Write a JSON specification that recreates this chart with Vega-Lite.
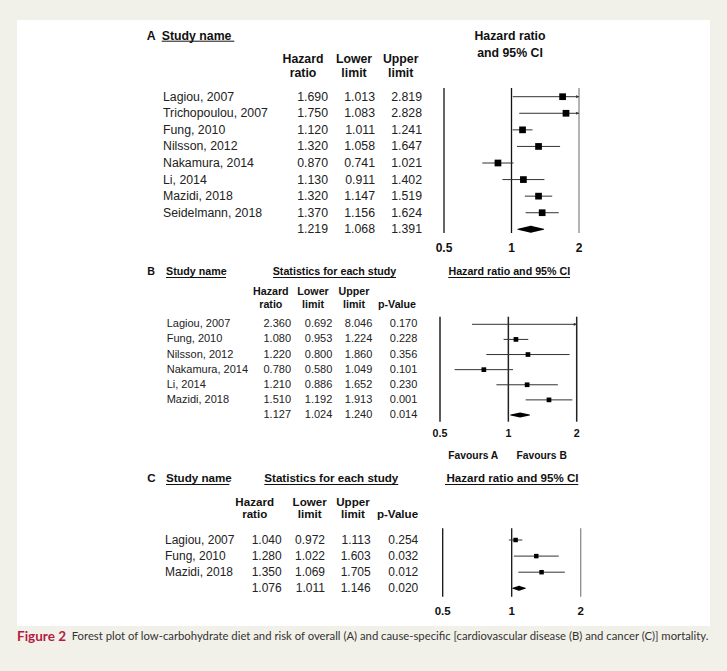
{
  "$schema": "https://vega.github.io/schema/vega-lite/v6.json",
  "background": "#f2f1e9",
  "padding": {"left": 17, "top": 20, "right": 17, "bottom": 23},
  "spacing": 0,
  "config": {"view": {"stroke": null}, "font": "Liberation Sans", "concat": {"spacing": 0}},
  "datasets": {
    "A": [
      {"study": "Lagiou, 2007", "hr": 1.690, "lo": 1.013, "hi": 2.819, "row": 0, "type": "study"},
      {"study": "Trichopoulou, 2007", "hr": 1.750, "lo": 1.083, "hi": 2.828, "row": 1, "type": "study"},
      {"study": "Fung, 2010", "hr": 1.120, "lo": 1.011, "hi": 1.241, "row": 2, "type": "study"},
      {"study": "Nilsson, 2012", "hr": 1.320, "lo": 1.058, "hi": 1.647, "row": 3, "type": "study"},
      {"study": "Nakamura, 2014", "hr": 0.870, "lo": 0.741, "hi": 1.021, "row": 4, "type": "study"},
      {"study": "Li, 2014", "hr": 1.130, "lo": 0.911, "hi": 1.402, "row": 5, "type": "study"},
      {"study": "Mazidi, 2018", "hr": 1.320, "lo": 1.147, "hi": 1.519, "row": 6, "type": "study"},
      {"study": "Seidelmann, 2018", "hr": 1.370, "lo": 1.156, "hi": 1.624, "row": 7, "type": "study"},
      {"study": "", "hr": 1.219, "lo": 1.068, "hi": 1.391, "row": 8, "type": "summary"}
    ],
    "B": [
      {"study": "Lagiou, 2007", "hr": 2.360, "lo": 0.692, "hi": 8.046, "p": 0.170, "row": 0, "type": "study"},
      {"study": "Fung, 2010", "hr": 1.080, "lo": 0.953, "hi": 1.224, "p": 0.228, "row": 1, "type": "study"},
      {"study": "Nilsson, 2012", "hr": 1.220, "lo": 0.800, "hi": 1.860, "p": 0.356, "row": 2, "type": "study"},
      {"study": "Nakamura, 2014", "hr": 0.780, "lo": 0.580, "hi": 1.049, "p": 0.101, "row": 3, "type": "study"},
      {"study": "Li, 2014", "hr": 1.210, "lo": 0.886, "hi": 1.652, "p": 0.230, "row": 4, "type": "study"},
      {"study": "Mazidi, 2018", "hr": 1.510, "lo": 1.192, "hi": 1.913, "p": 0.001, "row": 5, "type": "study"},
      {"study": "", "hr": 1.127, "lo": 1.024, "hi": 1.240, "p": 0.014, "row": 6, "type": "summary"}
    ],
    "C": [
      {"study": "Lagiou, 2007", "hr": 1.040, "lo": 0.972, "hi": 1.113, "p": 0.254, "row": 0, "type": "study"},
      {"study": "Fung, 2010", "hr": 1.280, "lo": 1.022, "hi": 1.603, "p": 0.032, "row": 1, "type": "study"},
      {"study": "Mazidi, 2018", "hr": 1.350, "lo": 1.069, "hi": 1.705, "p": 0.012, "row": 2, "type": "study"},
      {"study": "", "hr": 1.076, "lo": 1.011, "hi": 1.146, "p": 0.020, "row": 3, "type": "summary"}
    ]
  },
  "vconcat": [
    {
      "width": 693, "height": 238,
      "view": {"fill": "white", "stroke": null},
      "encoding": {"y": {"field": "row", "type": "quantitative", "axis": null, "scale": {"domain": [-4, -3, -2, -1, 0, 8, 9], "range": [15.7, 33.3, 39.3, 53.3, 76.7, 209.3, 227.7], "nice": false, "zero": false}}},
      "layer": [
        {"data": {"values": [{"text": "A", "slot": 0, "row": -4}, {"text": "Study name", "slot": 1, "row": -4}]},
         "mark": {"type": "text", "align": "left", "baseline": "middle", "fontWeight": "bold", "fontSize": 12.3, "color": "#111"},
         "encoding": {"x": {"field": "slot", "type": "quantitative", "axis": null, "scale": {"domain": [0, 1, 2, 7], "range": [129.7, 144.7, 217.3, 493], "nice": false, "zero": false}}, "text": {"field": "text"}}},
        {"data": {"values": [{"from": 1, "to": 2, "row": -4}]},
         "mark": {"type": "rule", "yOffset": 5.5, "strokeWidth": 1, "color": "#111"},
         "encoding": {"x": {"field": "from", "type": "quantitative", "axis": null, "scale": {"domain": [0, 1, 2, 7], "range": [129.7, 144.7, 217.3, 493], "nice": false, "zero": false}}, "x2": {"field": "to"}}},
        {"data": {"values": [{"text": "Hazard ratio", "slot": 7, "row": -4}, {"text": "and 95% CI", "slot": 7, "row": -3}]},
         "mark": {"type": "text", "align": "center", "baseline": "middle", "fontWeight": "bold", "fontSize": 12.3, "color": "#111"},
         "encoding": {"x": {"field": "slot", "type": "quantitative", "axis": null, "scale": {"domain": [0, 1, 2, 7], "range": [129.7, 144.7, 217.3, 493], "nice": false, "zero": false}}, "text": {"field": "text"}}},
        {"data": {"values": [{"text": "Hazard", "col": 1, "row": -2}, {"text": "ratio", "col": 1, "row": -1}, {"text": "Lower", "col": 2, "row": -2}, {"text": "limit", "col": 2, "row": -1}, {"text": "Upper", "col": 3, "row": -2}, {"text": "limit", "col": 3, "row": -1}]},
         "mark": {"type": "text", "align": "center", "baseline": "middle", "fontWeight": "bold", "fontSize": 12.3, "color": "#111"},
         "encoding": {"x": {"field": "col", "type": "quantitative", "axis": null, "scale": {"domain": [1, 2, 3], "range": [286, 337, 383.7], "nice": false, "zero": false}}, "text": {"field": "text"}}},
        {"data": {"name": "A"}, "transform": [{"filter": "datum.type === 'study'"}],
         "mark": {"type": "text", "align": "left", "baseline": "middle", "fontSize": 12.3, "color": "#222"},
         "encoding": {"x": {"datum": 0, "type": "quantitative", "axis": null, "scale": {"domain": [0, 1, 2, 3], "range": [146, 311, 358, 405], "nice": false, "zero": false}}, "text": {"field": "study"}}},
        {"data": {"name": "A"},
         "mark": {"type": "text", "align": "right", "baseline": "middle", "fontSize": 12.3, "color": "#222"},
         "encoding": {"x": {"datum": 1, "type": "quantitative", "axis": null, "scale": {"domain": [0, 1, 2, 3], "range": [146, 311, 358, 405], "nice": false, "zero": false}}, "text": {"field": "hr", "type": "quantitative", "format": ".3f"}}},
        {"data": {"name": "A"},
         "mark": {"type": "text", "align": "right", "baseline": "middle", "fontSize": 12.3, "color": "#222"},
         "encoding": {"x": {"datum": 2, "type": "quantitative", "axis": null, "scale": {"domain": [0, 1, 2, 3], "range": [146, 311, 358, 405], "nice": false, "zero": false}}, "text": {"field": "lo", "type": "quantitative", "format": ".3f"}}},
        {"data": {"name": "A"},
         "mark": {"type": "text", "align": "right", "baseline": "middle", "fontSize": 12.3, "color": "#222"},
         "encoding": {"x": {"datum": 3, "type": "quantitative", "axis": null, "scale": {"domain": [0, 1, 2, 3], "range": [146, 311, 358, 405], "nice": false, "zero": false}}, "text": {"field": "hi", "type": "quantitative", "format": ".3f"}}},
        {"data": {"values": [{"v": 0.5, "row": 0, "last": 8}, {"v": 1, "row": 0, "last": 8}, {"v": 2, "row": 0, "last": 8}]},
         "mark": {"type": "rule", "yOffset": -8.7, "y2Offset": 3.7, "strokeWidth": 1.3},
         "encoding": {"x": {"field": "v", "type": "quantitative", "axis": null, "scale": {"type": "log", "domain": [0.5, 2], "range": [427, 562], "clamp": true, "nice": false}}, "y2": {"field": "last"}, "color": {"condition": {"test": "datum.v === 2", "value": "#8c8c8c"}, "value": "#111"}}},
        {"data": {"name": "A"}, "transform": [{"filter": "datum.type === 'study'"}],
         "mark": {"type": "rule", "color": "#333", "strokeWidth": 1},
         "encoding": {"x": {"field": "lo", "type": "quantitative", "axis": null, "scale": {"type": "log", "domain": [0.5, 2], "range": [427, 562], "clamp": true, "nice": false}}, "x2": {"field": "hi"}}},
        {"data": {"name": "A"}, "transform": [{"filter": "datum.type === 'study' && datum.hi > 2"}],
         "mark": {"type": "point", "shape": "triangle-right", "filled": true, "color": "#333", "size": 10, "opacity": 1, "xOffset": -1.5},
         "encoding": {"x": {"field": "hi", "type": "quantitative", "axis": null, "scale": {"type": "log", "domain": [0.5, 2], "range": [427, 562], "clamp": true, "nice": false}}}},
        {"data": {"name": "A"}, "transform": [{"filter": "datum.type === 'study' && datum.hr <= 2"}],
         "mark": {"type": "point", "shape": "square", "filled": true, "color": "#000", "size": 45, "opacity": 1},
         "encoding": {"x": {"field": "hr", "type": "quantitative", "axis": null, "scale": {"type": "log", "domain": [0.5, 2], "range": [427, 562], "clamp": true, "nice": false}}}},
        {"data": {"name": "A"}, "transform": [{"filter": "datum.type === 'summary'"}, {"fold": ["lo", "hr", "hi"], "as": ["part", "value"]}],
         "mark": {"type": "trail", "color": "#000"},
         "encoding": {"x": {"field": "value", "type": "quantitative", "axis": null, "scale": {"type": "log", "domain": [0.5, 2], "range": [427, 562], "clamp": true, "nice": false}}, "size": {"field": "part", "type": "ordinal", "scale": {"type": "ordinal", "domain": ["lo", "hr", "hi"], "range": [0, 7, 0]}, "legend": null}}},
        {"data": {"values": [{"v": 0.5, "label": "0.5", "row": 9}, {"v": 1, "label": "1", "row": 9}, {"v": 2, "label": "2", "row": 9}]},
         "mark": {"type": "text", "align": "center", "baseline": "middle", "fontWeight": "bold", "fontSize": 12, "color": "#111"},
         "encoding": {"x": {"field": "v", "type": "quantitative", "axis": null, "scale": {"type": "log", "domain": [0.5, 2], "range": [427, 562], "clamp": true, "nice": false}}, "text": {"field": "label"}}}
      ],
      "resolve": {"scale": {"x": "independent", "size": "independent"}}
    },
    {
      "width": 693, "height": 207,
      "view": {"fill": "white", "stroke": null},
      "encoding": {"y": {"field": "row", "type": "quantitative", "axis": null, "scale": {"domain": [-3, -2, -1, 0, 6, 7, 8], "range": [13.7, 33.7, 47, 66.3, 157, 176, 197.7], "nice": false, "zero": false}}},
      "layer": [
        {"data": {"values": [{"text": "B", "slot": 0, "row": -3}, {"text": "Study name", "slot": 1, "row": -3}]},
         "mark": {"type": "text", "align": "left", "baseline": "middle", "fontWeight": "bold", "fontSize": 10.7, "color": "#111"},
         "encoding": {"x": {"field": "slot", "type": "quantitative", "axis": null, "scale": {"domain": [0, 1, 2, 3, 4, 5, 6, 7, 8], "range": [130.3, 149, 209, 256, 317.5, 379, 431.3, 492.3, 553], "nice": false, "zero": false}}, "text": {"field": "text"}}},
        {"data": {"values": [{"text": "Statistics for each study", "slot": 4, "row": -3}, {"text": "Hazard ratio and 95% CI", "slot": 7, "row": -3}]},
         "mark": {"type": "text", "align": "center", "baseline": "middle", "fontWeight": "bold", "fontSize": 10.7, "color": "#111"},
         "encoding": {"x": {"field": "slot", "type": "quantitative", "axis": null, "scale": {"domain": [0, 1, 2, 3, 4, 5, 6, 7, 8], "range": [130.3, 149, 209, 256, 317.5, 379, 431.3, 492.3, 553], "nice": false, "zero": false}}, "text": {"field": "text"}}},
        {"data": {"values": [{"from": 1, "to": 2, "row": -3}, {"from": 3, "to": 5, "row": -3}, {"from": 6, "to": 8, "row": -3}]},
         "mark": {"type": "rule", "yOffset": 5.8, "strokeWidth": 1, "color": "#111"},
         "encoding": {"x": {"field": "from", "type": "quantitative", "axis": null, "scale": {"domain": [0, 1, 2, 3, 4, 5, 6, 7, 8], "range": [130.3, 149, 209, 256, 317.5, 379, 431.3, 492.3, 553], "nice": false, "zero": false}}, "x2": {"field": "to"}}},
        {"data": {"values": [{"text": "Hazard", "col": 1, "row": -2}, {"text": "ratio", "col": 1, "row": -1}, {"text": "Lower", "col": 2, "row": -2}, {"text": "limit", "col": 2, "row": -1}, {"text": "Upper", "col": 3, "row": -2}, {"text": "limit", "col": 3, "row": -1}, {"text": "p-Value", "col": 4, "row": -1}]},
         "mark": {"type": "text", "align": "center", "baseline": "middle", "fontWeight": "bold", "fontSize": 10.7, "color": "#111"},
         "encoding": {"x": {"field": "col", "type": "quantitative", "axis": null, "scale": {"domain": [1, 2, 3, 4], "range": [253.8, 296, 337, 380], "nice": false, "zero": false}}, "text": {"field": "text"}}},
        {"data": {"name": "B"}, "transform": [{"filter": "datum.type === 'study'"}],
         "mark": {"type": "text", "align": "left", "baseline": "middle", "fontSize": 11, "color": "#222"},
         "encoding": {"x": {"datum": 0, "type": "quantitative", "axis": null, "scale": {"domain": [0, 1, 2, 3, 4], "range": [149.7, 274, 315.3, 355.3, 400.3], "nice": false, "zero": false}}, "text": {"field": "study"}}},
        {"data": {"name": "B"},
         "mark": {"type": "text", "align": "right", "baseline": "middle", "fontSize": 11, "color": "#222"},
         "encoding": {"x": {"datum": 1, "type": "quantitative", "axis": null, "scale": {"domain": [0, 1, 2, 3, 4], "range": [149.7, 274, 315.3, 355.3, 400.3], "nice": false, "zero": false}}, "text": {"field": "hr", "type": "quantitative", "format": ".3f"}}},
        {"data": {"name": "B"},
         "mark": {"type": "text", "align": "right", "baseline": "middle", "fontSize": 11, "color": "#222"},
         "encoding": {"x": {"datum": 2, "type": "quantitative", "axis": null, "scale": {"domain": [0, 1, 2, 3, 4], "range": [149.7, 274, 315.3, 355.3, 400.3], "nice": false, "zero": false}}, "text": {"field": "lo", "type": "quantitative", "format": ".3f"}}},
        {"data": {"name": "B"},
         "mark": {"type": "text", "align": "right", "baseline": "middle", "fontSize": 11, "color": "#222"},
         "encoding": {"x": {"datum": 3, "type": "quantitative", "axis": null, "scale": {"domain": [0, 1, 2, 3, 4], "range": [149.7, 274, 315.3, 355.3, 400.3], "nice": false, "zero": false}}, "text": {"field": "hi", "type": "quantitative", "format": ".3f"}}},
        {"data": {"name": "B"},
         "mark": {"type": "text", "align": "right", "baseline": "middle", "fontSize": 11, "color": "#222"},
         "encoding": {"x": {"datum": 4, "type": "quantitative", "axis": null, "scale": {"domain": [0, 1, 2, 3, 4], "range": [149.7, 274, 315.3, 355.3, 400.3], "nice": false, "zero": false}}, "text": {"field": "p", "type": "quantitative", "format": ".3f"}}},
        {"data": {"values": [{"v": 0.5, "row": 0, "last": 6}, {"v": 1, "row": 0, "last": 6}, {"v": 2, "row": 0, "last": 6}]},
         "mark": {"type": "rule", "yOffset": -7.6, "y2Offset": 6.7, "strokeWidth": 1.5, "color": "#222"},
         "encoding": {"x": {"field": "v", "type": "quantitative", "axis": null, "scale": {"type": "log", "domain": [0.5, 2], "range": [423, 559.7], "clamp": true, "nice": false}}, "y2": {"field": "last"}}},
        {"data": {"name": "B"}, "transform": [{"filter": "datum.type === 'study'"}],
         "mark": {"type": "rule", "color": "#333", "strokeWidth": 1},
         "encoding": {"x": {"field": "lo", "type": "quantitative", "axis": null, "scale": {"type": "log", "domain": [0.5, 2], "range": [423, 559.7], "clamp": true, "nice": false}}, "x2": {"field": "hi"}}},
        {"data": {"name": "B"}, "transform": [{"filter": "datum.type === 'study' && datum.hi > 2"}],
         "mark": {"type": "point", "shape": "triangle-right", "filled": true, "color": "#333", "size": 10, "opacity": 1, "xOffset": -1.5},
         "encoding": {"x": {"field": "hi", "type": "quantitative", "axis": null, "scale": {"type": "log", "domain": [0.5, 2], "range": [423, 559.7], "clamp": true, "nice": false}}}},
        {"data": {"name": "B"}, "transform": [{"filter": "datum.type === 'study' && datum.hr <= 2"}],
         "mark": {"type": "point", "shape": "square", "filled": true, "color": "#000", "size": 22, "opacity": 1},
         "encoding": {"x": {"field": "hr", "type": "quantitative", "axis": null, "scale": {"type": "log", "domain": [0.5, 2], "range": [423, 559.7], "clamp": true, "nice": false}}}},
        {"data": {"name": "B"}, "transform": [{"filter": "datum.type === 'summary'"}, {"fold": ["lo", "hr", "hi"], "as": ["part", "value"]}],
         "mark": {"type": "trail", "color": "#000"},
         "encoding": {"x": {"field": "value", "type": "quantitative", "axis": null, "scale": {"type": "log", "domain": [0.5, 2], "range": [423, 559.7], "clamp": true, "nice": false}}, "size": {"field": "part", "type": "ordinal", "scale": {"type": "ordinal", "domain": ["lo", "hr", "hi"], "range": [0, 5, 0]}, "legend": null}}},
        {"data": {"values": [{"v": 0.5, "label": "0.5", "row": 7}, {"v": 1, "label": "1", "row": 7}, {"v": 2, "label": "2", "row": 7}]},
         "mark": {"type": "text", "align": "center", "baseline": "middle", "fontWeight": "bold", "fontSize": 10.7, "color": "#111"},
         "encoding": {"x": {"field": "v", "type": "quantitative", "axis": null, "scale": {"type": "log", "domain": [0.5, 2], "range": [423, 559.7], "clamp": true, "nice": false}}, "text": {"field": "label"}}},
        {"data": {"values": [{"text": "Favours A", "row": 8}, {"text": "Favours B", "row": 8}]},
         "mark": {"type": "text", "align": "center", "baseline": "middle", "fontWeight": "bold", "fontSize": 10.3, "color": "#111"},
         "encoding": {"x": {"field": "text", "type": "nominal", "axis": null, "scale": {"type": "point", "domain": ["Favours A", "Favours B"], "range": [456.3, 524.7], "padding": 0}}, "text": {"field": "text"}}}
      ],
      "resolve": {"scale": {"x": "independent", "size": "independent"}}
    },
    {
      "width": 693, "height": 161,
      "view": {"fill": "white", "stroke": null},
      "encoding": {"y": {"field": "row", "type": "quantitative", "axis": null, "scale": {"domain": [-3, -2, -1, 0, 3, 4], "range": [14, 38.3, 50, 75, 123.3, 146.7], "nice": false, "zero": false}}},
      "layer": [
        {"data": {"values": [{"text": "C", "slot": 0, "row": -3}, {"text": "Study name", "slot": 1, "row": -3}]},
         "mark": {"type": "text", "align": "left", "baseline": "middle", "fontWeight": "bold", "fontSize": 11.6, "color": "#111"},
         "encoding": {"x": {"field": "slot", "type": "quantitative", "axis": null, "scale": {"domain": [0, 1, 2, 3, 4, 5, 6, 7, 8], "range": [130.3, 149, 212.3, 247.3, 314.3, 381.3, 428, 495.5, 561.3], "nice": false, "zero": false}}, "text": {"field": "text"}}},
        {"data": {"values": [{"text": "Statistics for each study", "slot": 4, "row": -3}, {"text": "Hazard ratio and 95% CI", "slot": 7, "row": -3}]},
         "mark": {"type": "text", "align": "center", "baseline": "middle", "fontWeight": "bold", "fontSize": 11.6, "color": "#111"},
         "encoding": {"x": {"field": "slot", "type": "quantitative", "axis": null, "scale": {"domain": [0, 1, 2, 3, 4, 5, 6, 7, 8], "range": [130.3, 149, 212.3, 247.3, 314.3, 381.3, 428, 495.5, 561.3], "nice": false, "zero": false}}, "text": {"field": "text"}}},
        {"data": {"values": [{"from": 1, "to": 2, "row": -3}, {"from": 3, "to": 5, "row": -3}, {"from": 6, "to": 8, "row": -3}]},
         "mark": {"type": "rule", "yOffset": 5.5, "strokeWidth": 1, "color": "#111"},
         "encoding": {"x": {"field": "from", "type": "quantitative", "axis": null, "scale": {"domain": [0, 1, 2, 3, 4, 5, 6, 7, 8], "range": [130.3, 149, 212.3, 247.3, 314.3, 381.3, 428, 495.5, 561.3], "nice": false, "zero": false}}, "x2": {"field": "to"}}},
        {"data": {"values": [{"text": "Hazard", "col": 1, "row": -2}, {"text": "ratio", "col": 1, "row": -1}, {"text": "Lower", "col": 2, "row": -2}, {"text": "limit", "col": 2, "row": -1}, {"text": "Upper", "col": 3, "row": -2}, {"text": "limit", "col": 3, "row": -1}, {"text": "p-Value", "col": 4, "row": -1}]},
         "mark": {"type": "text", "align": "center", "baseline": "middle", "fontWeight": "bold", "fontSize": 11.6, "color": "#111"},
         "encoding": {"x": {"field": "col", "type": "quantitative", "axis": null, "scale": {"domain": [1, 2, 3, 4], "range": [237.7, 292.7, 336, 380.5], "nice": false, "zero": false}}, "text": {"field": "text"}}},
        {"data": {"name": "C"}, "transform": [{"filter": "datum.type === 'study'"}],
         "mark": {"type": "text", "align": "left", "baseline": "middle", "fontSize": 12, "color": "#222"},
         "encoding": {"x": {"datum": 0, "type": "quantitative", "axis": null, "scale": {"domain": [0, 1, 2, 3, 4], "range": [148, 264.7, 308, 353.7, 401.3], "nice": false, "zero": false}}, "text": {"field": "study"}}},
        {"data": {"name": "C"},
         "mark": {"type": "text", "align": "right", "baseline": "middle", "fontSize": 12, "color": "#222"},
         "encoding": {"x": {"datum": 1, "type": "quantitative", "axis": null, "scale": {"domain": [0, 1, 2, 3, 4], "range": [148, 264.7, 308, 353.7, 401.3], "nice": false, "zero": false}}, "text": {"field": "hr", "type": "quantitative", "format": ".3f"}}},
        {"data": {"name": "C"},
         "mark": {"type": "text", "align": "right", "baseline": "middle", "fontSize": 12, "color": "#222"},
         "encoding": {"x": {"datum": 2, "type": "quantitative", "axis": null, "scale": {"domain": [0, 1, 2, 3, 4], "range": [148, 264.7, 308, 353.7, 401.3], "nice": false, "zero": false}}, "text": {"field": "lo", "type": "quantitative", "format": ".3f"}}},
        {"data": {"name": "C"},
         "mark": {"type": "text", "align": "right", "baseline": "middle", "fontSize": 12, "color": "#222"},
         "encoding": {"x": {"datum": 3, "type": "quantitative", "axis": null, "scale": {"domain": [0, 1, 2, 3, 4], "range": [148, 264.7, 308, 353.7, 401.3], "nice": false, "zero": false}}, "text": {"field": "hi", "type": "quantitative", "format": ".3f"}}},
        {"data": {"name": "C"},
         "mark": {"type": "text", "align": "right", "baseline": "middle", "fontSize": 12, "color": "#222"},
         "encoding": {"x": {"datum": 4, "type": "quantitative", "axis": null, "scale": {"domain": [0, 1, 2, 3, 4], "range": [148, 264.7, 308, 353.7, 401.3], "nice": false, "zero": false}}, "text": {"field": "p", "type": "quantitative", "format": ".3f"}}},
        {"data": {"values": [{"v": 0.5, "row": 0, "last": 3}, {"v": 1, "row": 0, "last": 3}, {"v": 2, "row": 0, "last": 3}]},
         "mark": {"type": "rule", "yOffset": -11.7, "y2Offset": 8.4, "strokeWidth": 1.3},
         "encoding": {"x": {"field": "v", "type": "quantitative", "axis": null, "scale": {"type": "log", "domain": [0.5, 2], "range": [425.7, 563.7], "clamp": true, "nice": false}}, "y2": {"field": "last"}, "color": {"condition": {"test": "datum.v === 2", "value": "#8c8c8c"}, "value": "#111"}}},
        {"data": {"name": "C"}, "transform": [{"filter": "datum.type === 'study'"}],
         "mark": {"type": "rule", "color": "#333", "strokeWidth": 1},
         "encoding": {"x": {"field": "lo", "type": "quantitative", "axis": null, "scale": {"type": "log", "domain": [0.5, 2], "range": [425.7, 563.7], "clamp": true, "nice": false}}, "x2": {"field": "hi"}}},
        {"data": {"name": "C"}, "transform": [{"filter": "datum.type === 'study' && datum.hr <= 2"}],
         "mark": {"type": "point", "shape": "square", "filled": true, "color": "#000", "size": 20, "opacity": 1},
         "encoding": {"x": {"field": "hr", "type": "quantitative", "axis": null, "scale": {"type": "log", "domain": [0.5, 2], "range": [425.7, 563.7], "clamp": true, "nice": false}}}},
        {"data": {"name": "C"}, "transform": [{"filter": "datum.type === 'summary'"}, {"fold": ["lo", "hr", "hi"], "as": ["part", "value"]}],
         "mark": {"type": "trail", "color": "#000"},
         "encoding": {"x": {"field": "value", "type": "quantitative", "axis": null, "scale": {"type": "log", "domain": [0.5, 2], "range": [425.7, 563.7], "clamp": true, "nice": false}}, "size": {"field": "part", "type": "ordinal", "scale": {"type": "ordinal", "domain": ["lo", "hr", "hi"], "range": [0, 5, 0]}, "legend": null}}},
        {"data": {"values": [{"v": 0.5, "label": "0.5", "row": 4}, {"v": 1, "label": "1", "row": 4}, {"v": 2, "label": "2", "row": 4}]},
         "mark": {"type": "text", "align": "center", "baseline": "middle", "fontWeight": "bold", "fontSize": 11.5, "color": "#111"},
         "encoding": {"x": {"field": "v", "type": "quantitative", "axis": null, "scale": {"type": "log", "domain": [0.5, 2], "range": [425.7, 563.7], "clamp": true, "nice": false}}, "text": {"field": "label"}}}
      ],
      "resolve": {"scale": {"x": "independent", "size": "independent"}}
    },
    {
      "width": 693, "height": 22,
      "view": {"stroke": null},
      "layer": [
        {"data": {"values": [{"part": "label", "text": "Figure 2"}]},
         "mark": {"type": "text", "align": "left", "baseline": "middle", "font": "Lato", "fontSize": 13.5, "fontWeight": "bold", "color": "#b31b45"},
         "encoding": {"x": {"field": "part", "type": "nominal", "axis": null, "scale": {"type": "point", "domain": ["label", "body"], "range": [0, 54.7], "padding": 0}}, "text": {"field": "text"}}},
        {"data": {"values": [{"part": "body", "text": "Forest plot of low-carbohydrate diet and risk of overall (A) and cause-specific [cardiovascular disease (B) and cancer (C)] mortality."}]},
         "mark": {"type": "text", "align": "left", "baseline": "middle", "font": "Lato", "fontSize": 11.3, "color": "#333"},
         "encoding": {"x": {"field": "part", "type": "nominal", "axis": null, "scale": {"type": "point", "domain": ["label", "body"], "range": [0, 54.7], "padding": 0}}, "text": {"field": "text"}}}
      ]
    }
  ]
}
